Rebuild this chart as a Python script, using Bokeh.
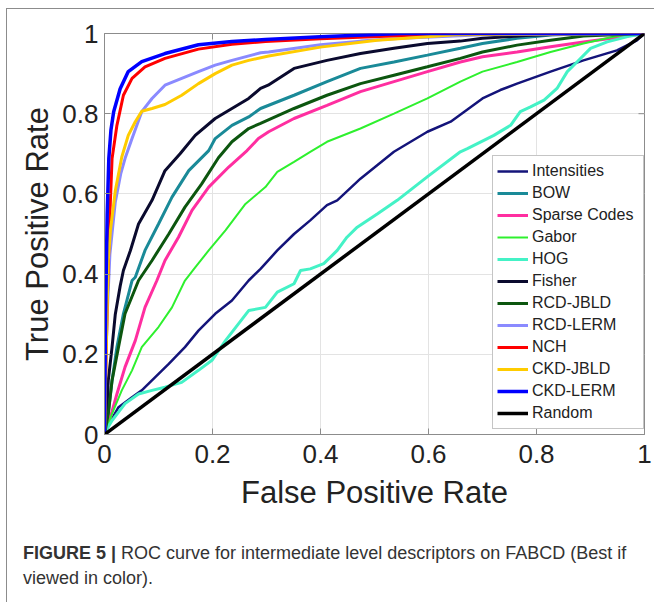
from bokeh.plotting import figure
from bokeh.models import Range1d, FixedTicker, Legend, LegendItem, Div
from bokeh.layouts import column
from bokeh.embed import file_html
from bokeh.resources import INLINE

# ---------------- data ----------------
tick_values = [0, 0.2, 0.4, 0.6, 0.8, 1]
tick_labels = ["0", "0.2", "0.4", "0.6", "0.8", "1"]

series_names = ["Intensities", "BOW", "Sparse Codes", "Gabor", "HOG", "Fisher",
                "RCD-JBLD", "RCD-LERM", "NCH", "CKD-JBLD", "CKD-LERM", "Random"]
series_colors = ["#14147a", "#1a8a98", "#ff2ea0", "#2ef02e", "#44f2c6", "#0a0a2e",
                 "#0c560f", "#8a8aff", "#ff0000", "#ffcc00", "#0000ff", "#000000"]

intensities_fpr = [0, 0.01, 0.026, 0.051, 0.069, 0.094, 0.119, 0.149, 0.174, 0.205, 0.236, 0.267, 0.289,
                   0.32, 0.351, 0.381, 0.412, 0.431, 0.474, 0.536, 0.598, 0.641, 0.70, 0.733, 0.764,
                   0.826, 0.887, 0.949, 0.986, 1]
intensities_tpr = [0, 0.03, 0.068, 0.093, 0.11, 0.143, 0.176, 0.218, 0.259, 0.301, 0.334, 0.384, 0.413,
                   0.459, 0.50, 0.534, 0.572, 0.584, 0.638, 0.705, 0.755, 0.78, 0.838, 0.859, 0.875,
                   0.905, 0.933, 0.958, 0.983, 1]

bow_fpr = [0, 0.007, 0.014, 0.023, 0.035, 0.051, 0.057, 0.075, 0.1, 0.125, 0.156, 0.193, 0.205, 0.236,
           0.267, 0.289, 0.351, 0.412, 0.474, 0.536, 0.598, 0.659, 0.70, 0.764, 0.826, 0.9, 1]
bow_tpr = [0, 0.052, 0.135, 0.218, 0.301, 0.384, 0.392, 0.459, 0.525, 0.592, 0.658, 0.708, 0.738, 0.771,
           0.792, 0.813, 0.846, 0.880, 0.913, 0.929, 0.946, 0.963, 0.975, 0.988, 0.996, 1.0, 1]

sparse_fpr = [0, 0.011, 0.023, 0.038, 0.057, 0.075, 0.097, 0.112, 0.137, 0.162, 0.193, 0.23, 0.264,
              0.285, 0.304, 0.351, 0.412, 0.474, 0.536, 0.598, 0.659, 0.70, 0.764, 0.826, 0.887, 0.95, 1]
sparse_tpr = [0, 0.043, 0.101, 0.168, 0.234, 0.317, 0.384, 0.434, 0.492, 0.559, 0.617, 0.667, 0.708,
              0.738, 0.755, 0.788, 0.821, 0.855, 0.880, 0.905, 0.929, 0.942, 0.954, 0.967, 0.979, 0.99, 1]

gabor_fpr = [0, 0.014, 0.032, 0.051, 0.069, 0.1, 0.125, 0.149, 0.168, 0.193, 0.224, 0.261, 0.298, 0.32,
             0.351, 0.381, 0.412, 0.474, 0.536, 0.598, 0.659, 0.70, 0.764, 0.826, 0.887, 0.949, 1]
gabor_tpr = [0, 0.052, 0.11, 0.16, 0.218, 0.268, 0.317, 0.384, 0.417, 0.459, 0.509, 0.575, 0.617, 0.655,
             0.68, 0.705, 0.730, 0.763, 0.80, 0.838, 0.880, 0.905, 0.929, 0.954, 0.975, 0.994, 1]

hog_fpr = [0, 0.003, 0.014, 0.038, 0.063, 0.088, 0.112, 0.143, 0.174, 0.199, 0.224, 0.248, 0.267, 0.298,
           0.32, 0.351, 0.363, 0.381, 0.406, 0.431, 0.449, 0.468, 0.505, 0.542, 0.60, 0.659, 0.672,
           0.721, 0.752, 0.770, 0.789, 0.814, 0.838, 0.857, 0.875, 0.9, 0.931, 0.974, 1]
hog_tpr = [0, 0.01, 0.035, 0.077, 0.101, 0.11, 0.118, 0.13, 0.16, 0.185, 0.234, 0.276, 0.309, 0.317,
           0.355, 0.376, 0.409, 0.413, 0.426, 0.459, 0.492, 0.517, 0.55, 0.584, 0.645, 0.705, 0.713,
           0.746, 0.771, 0.805, 0.817, 0.834, 0.863, 0.905, 0.929, 0.963, 0.979, 0.994, 1]

fisher_fpr = [0, 0.004, 0.007, 0.014, 0.02, 0.029, 0.035, 0.048, 0.063, 0.088, 0.112, 0.14, 0.168,
              0.205, 0.236, 0.267, 0.289, 0.303, 0.351, 0.412, 0.474, 0.536, 0.598, 0.659, 0.70, 0.78,
              0.88, 1]
fisher_tpr = [0, 0.05, 0.135, 0.218, 0.30, 0.37, 0.409, 0.459, 0.525, 0.584, 0.658, 0.70, 0.746,
              0.788, 0.813, 0.838, 0.863, 0.871, 0.913, 0.933, 0.95, 0.963, 0.975, 0.981, 0.988, 0.995,
              1, 1]

rcd_jbld_fpr = [0, 0.007, 0.014, 0.026, 0.038, 0.063, 0.088, 0.119, 0.149, 0.18, 0.211, 0.236, 0.267,
                0.289, 0.351, 0.412, 0.474, 0.536, 0.598, 0.659, 0.70, 0.764, 0.826, 0.887, 1]
rcd_jbld_tpr = [0, 0.052, 0.135, 0.218, 0.301, 0.384, 0.434, 0.5, 0.567, 0.625, 0.69, 0.73, 0.763,
                0.776, 0.813, 0.846, 0.875, 0.896, 0.917, 0.938, 0.954, 0.971, 0.983, 0.994, 1]

rcd_lerm_fpr = [0, 0.002, 0.005, 0.01, 0.02, 0.03, 0.038, 0.051, 0.069, 0.088, 0.112, 0.143, 0.174,
                0.205, 0.236, 0.289, 0.304, 0.40, 0.474, 0.55, 0.70, 1]
rcd_lerm_tpr = [0, 0.15, 0.3, 0.45, 0.58, 0.65, 0.688, 0.738, 0.805, 0.838, 0.871, 0.888, 0.905,
                0.921, 0.933, 0.952, 0.954, 0.972, 0.981, 0.988, 0.997, 1]

nch_fpr = [0, 0.003, 0.006, 0.01, 0.014, 0.023, 0.035, 0.051, 0.075, 0.112, 0.174, 0.236, 0.298, 0.4,
           0.52, 0.65, 1]
nch_tpr = [0, 0.2, 0.38, 0.55, 0.688, 0.771, 0.846, 0.888, 0.917, 0.938, 0.961, 0.973, 0.98, 0.987,
           0.993, 1, 1]

ckd_jbld_fpr = [0, 0.003, 0.007, 0.011, 0.02, 0.032, 0.044, 0.057, 0.069, 0.088, 0.112, 0.143, 0.174,
                0.205, 0.236, 0.267, 0.304, 0.40, 0.505, 0.65, 1]
ckd_jbld_tpr = [0, 0.2, 0.434, 0.509, 0.608, 0.692, 0.746, 0.78, 0.806, 0.813, 0.823, 0.846, 0.875,
                0.9, 0.921, 0.933, 0.944, 0.966, 0.983, 0.997, 1]

ckd_lerm_fpr = [0, 0.002, 0.005, 0.008, 0.012, 0.017, 0.029, 0.044, 0.069, 0.112, 0.174, 0.236, 0.298,
                0.4, 0.55, 1]
ckd_lerm_tpr = [0, 0.3, 0.55, 0.688, 0.76, 0.805, 0.862, 0.905, 0.93, 0.95, 0.972, 0.98, 0.985,
                0.992, 1, 1]

random_fpr = [0, 1]
random_tpr = [0, 1]

series_fpr = [intensities_fpr, bow_fpr, sparse_fpr, gabor_fpr, hog_fpr, fisher_fpr,
              rcd_jbld_fpr, rcd_lerm_fpr, nch_fpr, ckd_jbld_fpr, ckd_lerm_fpr, random_fpr]
series_tpr = [intensities_tpr, bow_tpr, sparse_tpr, gabor_tpr, hog_tpr, fisher_tpr,
              rcd_jbld_tpr, rcd_lerm_tpr, nch_tpr, ckd_jbld_tpr, ckd_lerm_tpr, random_tpr]
series_widths = [2.5, 3, 3, 2, 3, 3, 3, 3, 3, 3, 3.5, 3.5]

caption_bold = "FIGURE 5 |"
caption_line1 = "ROC curve for intermediate level descriptors on FABCD (Best if"
caption_line2 = "viewed in color)."

FONT = "Liberation Sans"
TEXT = "#222222"
FRAME = "#8c8c8c"

# ---------------- figure ----------------
FIG_W, FIG_H = 654, 530
p = figure(width=FIG_W, height=FIG_H, x_range=Range1d(0, 1), y_range=Range1d(0, 1),
           output_backend="svg", toolbar_location=None,
           min_border_left=104, min_border_right=10, min_border_top=33, min_border_bottom=96,
           x_axis_label="False Positive Rate", y_axis_label="True Positive Rate")
p.background_fill_color = "white"
p.border_fill_alpha = 0
p.outline_line_color = FRAME
frame_bg = ("linear-gradient(#8c8c8c,#8c8c8c) 6px 8px / 1px 100% no-repeat, "
            "linear-gradient(#8c8c8c,#8c8c8c) 6px 8px / 100% 1px no-repeat, white")
p.styles = {"background": frame_bg}

ticker = FixedTicker(ticks=tick_values)
overrides = {v: s for v, s in zip(tick_values, tick_labels)}

for ax in (p.xaxis[0], p.yaxis[0]):
    ax.ticker = ticker
    ax.major_label_overrides = overrides
    ax.major_label_text_font = FONT
    ax.major_label_text_font_size = "26px"
    ax.major_label_text_color = TEXT
    ax.axis_label_text_font = FONT
    ax.axis_label_text_font_size = "31px"
    ax.axis_label_text_font_style = "normal"
    ax.axis_label_text_color = TEXT
    ax.axis_line_color = FRAME
    ax.major_tick_line_color = FRAME
    ax.major_tick_in = 6
    ax.major_tick_out = 0
    ax.minor_tick_line_color = None

p.xaxis[0].major_label_standoff = 10
p.xaxis[0].axis_label_standoff = 9
p.yaxis[0].major_label_standoff = 6
p.yaxis[0].axis_label_standoff = 4

for g in (p.xgrid[0], p.ygrid[0]):
    g.ticker = ticker
    g.grid_line_color = "#e3e3e3"
    g.grid_line_width = 1

# inward ticks on the top and right edges of the box (MATLAB "box on")
tick_len_y = 6 / 401
tick_len_x = 6 / 540
p.segment(x0=tick_values, y0=[1] * len(tick_values), x1=tick_values,
          y1=[1 - tick_len_y] * len(tick_values), line_color=FRAME, line_width=1)
p.segment(x0=[1] * len(tick_values), y0=tick_values, x1=[1 - tick_len_x] * len(tick_values),
          y1=tick_values, line_color=FRAME, line_width=1)

items = []
for name, color, xs, ys, w in zip(series_names, series_colors, series_fpr, series_tpr, series_widths):
    r = p.line(xs, ys, line_color=color, line_width=w)
    items.append(LegendItem(label=name, renderers=[r]))

legend = Legend(items=items, location=(388, 5), label_text_font=FONT, label_text_font_size="16px",
                label_text_color=TEXT, glyph_width=31, glyph_height=22, label_height=22, spacing=0,
                padding=4, label_standoff=4, label_width=107, border_line_color=FRAME,
                background_fill_color="white", background_fill_alpha=1, margin=0)
p.add_layout(legend)

caption_html = (f'<b>{caption_bold}</b> {caption_line1}<br>{caption_line2}')
cap_bg = "linear-gradient(#8c8c8c,#8c8c8c) 6px 0 / 1px 100% no-repeat, white"
caption = Div(text=caption_html, width=FIG_W, height=602 - FIG_H, margin=0,
              styles={"background": cap_bg, "font-family": FONT, "font-size": "18px",
                      "line-height": "25px", "color": "#333333", "white-space": "nowrap",
                      "padding-left": "23px", "padding-top": "11px", "box-sizing": "border-box"})

layout = column(p, caption, spacing=0)

open("out.html", "w").write(file_html(layout, INLINE))
